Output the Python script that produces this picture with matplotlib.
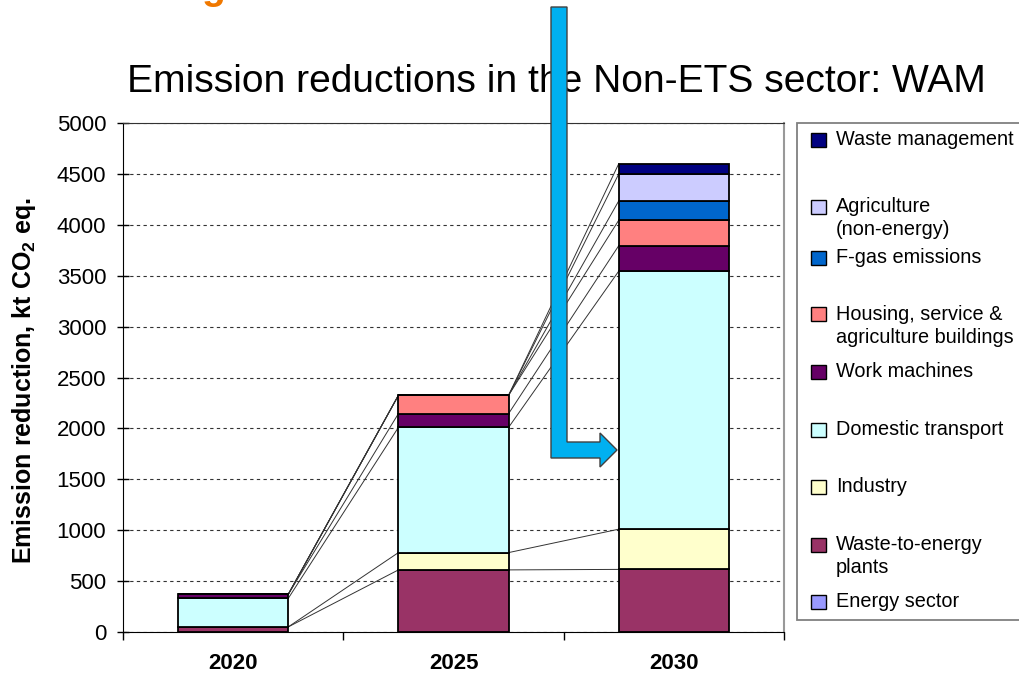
import matplotlib.pyplot as plt
import numpy as np
from matplotlib.patches import Polygon, Rectangle

plt.rcParams['font.family'] = ['Liberation Sans', 'DejaVu Sans']
plt.rcParams['mathtext.fontset'] = 'custom'
plt.rcParams['mathtext.rm'] = 'Liberation Sans:bold'
plt.rcParams['mathtext.default'] = 'rm'

# emission reductions, kt CO2 eq., stacked bottom to top
years = ['2020', '2025', '2030']
energy_sector = [0, 0, 0]
waste_to_energy = [50, 610, 615]
industry = [0, 170, 395]
domestic_transport = [280, 1230, 2535]
work_machines = [40, 135, 250]
housing = [0, 180, 250]
f_gas = [0, 0, 190]
agriculture = [0, 0, 265]
waste_management = [0, 0, 100]

series = [energy_sector, waste_to_energy, industry, domestic_transport,
          work_machines, housing, f_gas, agriculture, waste_management]
labels = ['Energy sector', 'Waste-to-energy\nplants', 'Industry',
          'Domestic transport', 'Work machines',
          'Housing, service &\nagriculture buildings', 'F-gas emissions',
          'Agriculture\n(non-energy)', 'Waste management']
colors = ['#9999FF', '#993366', '#FFFFCC', '#CCFFFF', '#660066',
          '#FF8080', '#0066CC', '#CCCCFF', '#000080']

W, H = 1019, 675

def fx(px):
    return px / W

def fy(py):
    return 1 - py / H

fig = plt.figure(figsize=(W / 100, H / 100), dpi=100)
ax = fig.add_axes([fx(123), fy(632), fx(784 - 123), (632 - 123) / H])

x = np.arange(len(years))
bw = 0.5
bottom = np.zeros(len(years))
tops = []
for vals, c in zip(series, colors):
    vals = np.array(vals, dtype=float)
    ax.bar(x, vals, bw, bottom=bottom, color=c, edgecolor='black',
           linewidth=1.3, zorder=3)
    bottom = bottom + vals
    tops.append(bottom.copy())

# series lines between neighbouring bars
for t in tops:
    for i in range(len(years) - 1):
        ax.plot([x[i] + bw / 2, x[i + 1] - bw / 2], [t[i], t[i + 1]],
                color='#333333', linewidth=0.7, zorder=2)

ax.set_xlim(-0.5, 2.5)
ax.set_ylim(0, 5000)
ax.set_yticks(np.arange(0, 5001, 500))
ax.yaxis.grid(True, linestyle=(0, (3, 3)), color='#333333', linewidth=0.8,
              zorder=0)
ax.set_axisbelow(True)
ax.tick_params(axis='y', direction='inout', length=8, width=1,
               labelsize=16, pad=8)
ax.set_xticks(x)
ax.set_xticklabels(years, fontsize=16, fontweight='bold')
ax.tick_params(axis='x', length=0, pad=15)
ax.set_xticks([-0.5, 0.5, 1.5, 2.5], minor=True)
ax.tick_params(axis='x', which='minor', direction='out', length=6, width=1)

ax.spines['left'].set_color('black')
ax.spines['bottom'].set_color('black')
ax.spines['top'].set_color('#333333')
ax.spines['right'].set_color('#999999')
ax.spines['right'].set_linewidth(1.5)

fig.text(fx(24), fy(381), 'Emission reduction, kt CO$_2$ eq.', rotation=90,
         ha='center', va='center', fontsize=18, fontweight='bold')

fig.text(fx(127), fy(92), 'Emission reductions in the Non-ETS sector: WAM',
         fontsize=28.1, ha='left', va='baseline')

# heading above the slide edge
fig.text(fx(201), fy(-1), 'g', fontsize=28, fontweight='bold',
         color='#F07800', ha='left', va='baseline')

# legend box
fig.add_artist(Rectangle((fx(797), fy(620)), fx(240), (620 - 123) / H,
                         transform=fig.transFigure, facecolor='white',
                         edgecolor='#808080', linewidth=1.3))
legend_baselines = [607, 550, 492, 435, 377, 320, 263, 212, 145]
line_step = 23
for lab, c, b in zip(labels, colors, legend_baselines):
    fig.add_artist(Rectangle((fx(811), fy(b + 1.5)), fx(15), 14 / H,
                             transform=fig.transFigure, facecolor=c,
                             edgecolor='black', linewidth=1))
    for k, part in enumerate(lab.split('\n')):
        fig.text(fx(836), fy(b + k * line_step), part, fontsize=14.3,
                 ha='left', va='baseline')

# call-out arrow
arrow = [(551, 7), (567, 7), (567, 442), (600, 442), (600, 433),
         (617, 450), (600, 467), (600, 458), (551, 458)]
fig.add_artist(Polygon([(fx(a), fy(b)) for a, b in arrow], closed=True,
                       transform=fig.transFigure, facecolor='#00B0F0',
                       edgecolor='#404040', linewidth=1, zorder=10))

fig.savefig('out.png', dpi=100)
